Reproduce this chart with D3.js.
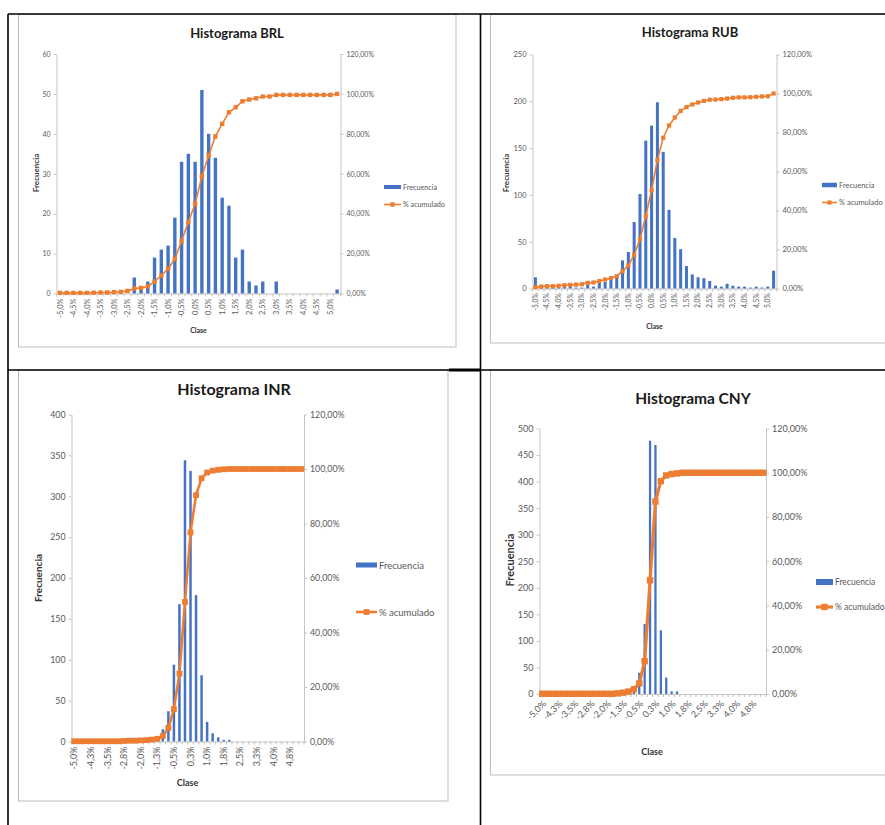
<!DOCTYPE html>
<html>
<head>
<meta charset="utf-8">
<script src="https://cdn.jsdelivr.net/npm/d3@7"></script>
<style>
  body { margin: 0; background: #fff; }
  svg { display: block; font-family: Lato, "Open Sans", sans-serif; }
</style>
</head>
<body>
<svg id="page" width="885" height="825"></svg>
<script>
// class limits (Excel histogram bins), last one is the overflow bin
const clases = [-5.0, -4.75, -4.5, -4.25, -4.0, -3.75, -3.5, -3.25, -3.0, -2.75,
  -2.5, -2.25, -2.0, -1.75, -1.5, -1.25, -1.0, -0.75, -0.5, -0.25,
  0.0, 0.25, 0.5, 0.75, 1.0, 1.25, 1.5, 1.75, 2.0, 2.25,
  2.5, 2.75, 3.0, 3.25, 3.5, 3.75, 4.0, 4.25, 4.5, 4.75, 5.0, "y mayor..."];

const pctTicks = [0, 20, 40, 60, 80, 100, 120];
const brlTicks = [0, 10, 20, 30, 40, 50, 60];
const rubTicks = [0, 50, 100, 150, 200, 250];
const inrTicks = [0, 50, 100, 150, 200, 250, 300, 350, 400];
const cnyTicks = [0, 50, 100, 150, 200, 250, 300, 350, 400, 450, 500];

const brlFreq = [0, 0, 0, 0, 0, 0, 0, 0, 0, 0, 0, 4, 1, 3, 9, 11, 12, 19, 33, 35,
  33, 51, 40, 34, 24, 22, 9, 11, 3, 2, 3, 0, 3, 0, 0, 0, 0, 0, 0, 0, 0, 1];
const brlCum = [0.3, 0.3, 0.3, 0.3, 0.3, 0.4, 0.5, 0.5, 0.7, 0.8, 1.3, 2.5, 2.8, 3.5, 6.0, 9.0, 12.3, 17.3, 26.3, 35.8,
  45.0, 58.7, 69.2, 78.7, 85.0, 90.8, 93.3, 96.3, 97.2, 97.8, 98.7, 98.7, 99.5, 99.5, 99.5, 99.5, 99.5, 99.5, 99.5, 99.5, 99.5, 100];

const rubFreq = [12, 1, 1, 1, 2, 2, 3, 1, 1, 4, 2, 6, 7, 11, 12, 30, 39, 71, 101, 158,
  174, 199, 146, 84, 54, 42, 24, 15, 12, 11, 8, 3, 2, 5, 3, 2, 2, 1, 2, 1, 2, 19];
const rubCum = [0.7, 1.0, 1.2, 1.2, 1.4, 1.7, 1.9, 2.0, 2.2, 2.9, 3.1, 3.8, 4.6, 5.3, 6.3, 8.9, 11.8, 17.2, 25.3, 37.2,
  50.5, 65.9, 77.3, 83.6, 87.7, 91.1, 93.0, 94.4, 95.4, 96.2, 96.8, 96.9, 97.1, 97.4, 97.8, 98.0, 98.0, 98.1, 98.3, 98.5, 98.6, 100];

const inrFreq = [0, 0, 0, 0, 0, 0, 0, 0, 0, 1, 1, 1, 1, 1, 2, 4, 15, 37, 94, 168,
  344, 331, 179, 81, 24, 10, 5, 2, 2, 0, 0, 0, 0, 0, 0, 0, 0, 0, 0, 0, 0, 0];
const inrCum = [0.1, 0.1, 0.1, 0.1, 0.1, 0.1, 0.1, 0.1, 0.1, 0.2, 0.3, 0.3, 0.4, 0.5, 0.7, 1.0, 2.0, 5.0, 11.9, 24.9,
  51.2, 76.7, 90.4, 96.6, 98.7, 99.4, 99.7, 99.9, 100, 100, 100, 100, 100, 100, 100, 100, 100, 100, 100, 100, 100, 100];

const cnyFreq = [0, 0, 0, 0, 0, 0, 0, 0, 0, 0, 0, 0, 0, 0, 1, 3, 2, 15, 40, 132,
  477, 469, 120, 31, 5, 5, 0, 0, 0, 0, 0, 0, 0, 0, 0, 0, 0, 0, 0, 0, 0, 0];
const cnyCum = [0.1, 0.1, 0.1, 0.1, 0.1, 0.1, 0.1, 0.1, 0.1, 0.1, 0.1, 0.1, 0.1, 0.1, 0.3, 0.6, 1.1, 2.1, 4.8, 14.8,
  51.4, 87.0, 96.2, 98.8, 99.4, 99.7, 100, 100, 100, 100, 100, 100, 100, 100, 100, 100, 100, 100, 100, 100, 100, 100];

const BLUE = "#4472C4";
const ORANGE = "#ED7D31";
const AXIS = "#c4c4c4";
const TICK_TEXT = "#595959";

const svg = d3.select("#page");

const fmtClase = (v) => typeof v === "number"
  ? d3.format(".1f")(v).replace("\u2212", "-").replace(".", ",") + "%"
  : v;
const fmtPct = (v) => d3.format(".2f")(v).replace(".", ",") + "%";

function drawChart(L, title, freq, cum, leftTicks) {
  const g = svg.append("g");

  g.append("rect")
    .attr("x", L.panel[0]).attr("y", L.panel[1])
    .attr("width", L.panel[2]).attr("height", L.panel[3])
    .attr("fill", "#fff").attr("stroke", "#bdbdbd").attr("stroke-width", 1);

  const x = d3.scaleBand()
    .domain(clases.map((_, i) => i))
    .range([L.left, L.right])
    .paddingInner(L.pad)
    .paddingOuter(L.pad / 2);
  const yL = d3.scaleLinear().domain([0, leftTicks[leftTicks.length - 1]]).range([L.bottom, L.top]);
  const yR = d3.scaleLinear().domain([0, 120]).range([L.bottom, L.top]);

  const styleAxis = (sel, size) => {
    sel.select(".domain").attr("stroke", AXIS);
    sel.selectAll(".tick line").attr("stroke", AXIS);
    sel.selectAll(".tick text")
      .attr("fill", TICK_TEXT)
      .style("font-size", `${size}px`)
      .style("font-family", "Lato, sans-serif");
  };

  g.append("g")
    .attr("transform", `translate(${L.left},0)`)
    .call(d3.axisLeft(yL).tickValues(leftTicks).tickSize(3).tickSizeOuter(0).tickPadding(3))
    .call(styleAxis, L.tickFont);

  g.append("g")
    .attr("transform", `translate(${L.right},0)`)
    .call(d3.axisRight(yR).tickValues(pctTicks).tickFormat(fmtPct).tickSize(3).tickSizeOuter(0).tickPadding(3))
    .call(styleAxis, L.tickFont);

  const labelIdx = clases.map((_, i) => i)
    .filter((i) => i % L.labelEvery === 0 && typeof clases[i] === "number");

  const axB = g.append("g")
    .attr("transform", `translate(0,${L.bottom})`)
    .call(d3.axisBottom(x).tickValues(labelIdx).tickFormat((i) => fmtClase(clases[i])).tickSize(0).tickSizeOuter(0))
    .call(styleAxis, L.xFont);

  axB.selectAll(".tick text")
    .attr("text-anchor", "end")
    .attr("x", 0).attr("y", 0).attr("dy", "0.35em")
    .attr("transform", L.rot === -90
      ? `translate(0,${L.labOff}) rotate(-90)`
      : `translate(${L.labOff * 0.3},${L.labOff}) rotate(${L.rot})`);

  // tick marks between categories
  g.append("g").selectAll("line")
    .data(d3.range(clases.length + 1))
    .join("line")
    .attr("x1", (k) => L.left + k * x.step())
    .attr("x2", (k) => L.left + k * x.step())
    .attr("y1", L.bottom).attr("y2", L.bottom + 3)
    .attr("stroke", AXIS);

  // bars
  g.append("g").selectAll("rect")
    .data(freq)
    .join("rect")
    .attr("x", (d, i) => x(i))
    .attr("width", x.bandwidth())
    .attr("y", (d) => yL(d))
    .attr("height", (d) => L.bottom - yL(d))
    .attr("fill", BLUE);

  const cx = (i) => x(i) + x.bandwidth() / 2;

  g.append("path")
    .datum(cum)
    .attr("fill", "none")
    .attr("stroke", ORANGE)
    .attr("stroke-width", L.lineW)
    .attr("d", d3.line().x((d, i) => cx(i)).y((d) => yR(d)));

  g.append("g").selectAll("rect")
    .data(cum)
    .join("rect")
    .attr("x", (d, i) => cx(i) - L.mark / 2)
    .attr("y", (d) => yR(d) - L.mark / 2)
    .attr("width", L.mark).attr("height", L.mark)
    .attr("fill", ORANGE);

  // titles
  g.append("text")
    .attr("x", L.title.x).attr("y", L.title.y)
    .attr("text-anchor", "middle")
    .style("font-size", `${L.title.size}px`).style("font-weight", "bold")
    .attr("fill", "#1a1a1a")
    .text(title);

  g.append("text")
    .attr("transform", `translate(${L.yTitle.x},${L.yTitle.y}) rotate(-90)`)
    .attr("text-anchor", "middle").attr("dominant-baseline", "central")
    .style("font-size", `${L.yTitle.size}px`).style("font-weight", "bold")
    .attr("fill", "#333")
    .text("Frecuencia");

  g.append("text")
    .attr("x", L.xTitle.x).attr("y", L.xTitle.y)
    .attr("text-anchor", "middle")
    .style("font-size", `${L.xTitle.size}px`).style("font-weight", "bold")
    .attr("fill", "#333")
    .text("Clase");

  // legend
  const lg = g.append("g").attr("transform", `translate(${L.legend.x},${L.legend.y})`);
  lg.append("rect")
    .attr("x", 0).attr("y", -L.legend.h / 2)
    .attr("width", L.legend.w).attr("height", L.legend.h)
    .attr("fill", BLUE);
  lg.append("text")
    .attr("x", L.legend.w + 2).attr("y", 0)
    .attr("dominant-baseline", "central")
    .style("font-size", `${L.legend.size}px`).attr("fill", TICK_TEXT)
    .text("Frecuencia");
  lg.append("line")
    .attr("x1", 0).attr("x2", L.legend.w)
    .attr("y1", L.legend.gap).attr("y2", L.legend.gap)
    .attr("stroke", ORANGE).attr("stroke-width", L.lineW);
  lg.append("rect")
    .attr("x", L.legend.w / 2 - L.mark / 2).attr("y", L.legend.gap - L.mark / 2)
    .attr("width", L.mark).attr("height", L.mark)
    .attr("fill", ORANGE);
  lg.append("text")
    .attr("x", L.legend.w + 2).attr("y", L.legend.gap)
    .attr("dominant-baseline", "central")
    .style("font-size", `${L.legend.size}px`).attr("fill", TICK_TEXT)
    .text("% acumulado");
}

const layoutBRL = {
  panel: [18.5, 14.5, 437.5, 332.5], left: 56.5, right: 340.5, top: 54, bottom: 293.5,
  pad: 0.5, labelEvery: 2, rot: -90, labOff: 5, tickFont: 7, xFont: 7.5,
  lineW: 1.6, mark: 4.4,
  title: { x: 237, y: 38, size: 13 }, yTitle: { x: 36, y: 173, size: 8 },
  xTitle: { x: 198.5, y: 333, size: 7 },
  legend: { x: 384, y: 187, w: 17, h: 4, gap: 17.5, size: 7.2 }
};
const layoutRUB = {
  panel: [490.5, 14.5, 400, 328.5], left: 532.5, right: 776.5, top: 54.5, bottom: 288.5,
  pad: 0.48, labelEvery: 2, rot: -90, labOff: 4.5, tickFont: 7.5, xFont: 6.8,
  lineW: 1.6, mark: 4.2,
  title: { x: 690, y: 37, size: 13 }, yTitle: { x: 506, y: 173, size: 8 },
  xTitle: { x: 654.5, y: 329, size: 7 },
  legend: { x: 822, y: 185, w: 15, h: 4.5, gap: 17.5, size: 7.5 }
};
const layoutINR = {
  panel: [18.5, 370, 429.5, 431], left: 71.5, right: 304, top: 414.5, bottom: 741.5,
  pad: 0.55, labelEvery: 3, rot: -90, labOff: 5, tickFont: 8.8, xFont: 9,
  lineW: 2.6, mark: 5.8,
  title: { x: 234, y: 394.5, size: 16 }, yTitle: { x: 38, y: 578, size: 10 },
  xTitle: { x: 187.5, y: 786, size: 9 },
  legend: { x: 356, y: 565, w: 21, h: 5, gap: 47, size: 9.5 }
};
const layoutCNY = {
  panel: [490.5, 370, 400, 405], left: 539.5, right: 766, top: 428.5, bottom: 694,
  pad: 0.58, labelEvery: 3, rot: -45, labOff: 8, tickFont: 9, xFont: 9,
  lineW: 3.2, mark: 6.4,
  title: { x: 693, y: 404, size: 15.5 }, yTitle: { x: 509, y: 560, size: 11 },
  xTitle: { x: 652, y: 755, size: 9 },
  legend: { x: 816, y: 582, w: 17, h: 6, gap: 25, size: 8.5 }
};

drawChart(layoutBRL, "Histograma BRL", brlFreq, brlCum, brlTicks);
drawChart(layoutRUB, "Histograma RUB", rubFreq, rubCum, rubTicks);
drawChart(layoutINR, "Histograma INR", inrFreq, inrCum, inrTicks);
drawChart(layoutCNY, "Histograma CNY", cnyFreq, cnyCum, cnyTicks);

// table borders around the four pictures
const borders = svg.append("g").attr("stroke", "#000");
borders.append("line").attr("x1", 8).attr("x2", 885).attr("y1", 14).attr("y2", 14).attr("stroke-width", 1.6);
borders.append("line").attr("x1", 8).attr("x2", 8).attr("y1", 14).attr("y2", 825).attr("stroke-width", 1.6);
borders.append("line").attr("x1", 480.5).attr("x2", 480.5).attr("y1", 14).attr("y2", 825).attr("stroke-width", 1.6);
borders.append("line").attr("x1", 8).attr("x2", 885).attr("y1", 370).attr("y2", 370).attr("stroke-width", 1.6);
borders.append("line").attr("x1", 449).attr("x2", 480).attr("y1", 370).attr("y2", 370).attr("stroke-width", 3);
</script>
</body>
</html>
